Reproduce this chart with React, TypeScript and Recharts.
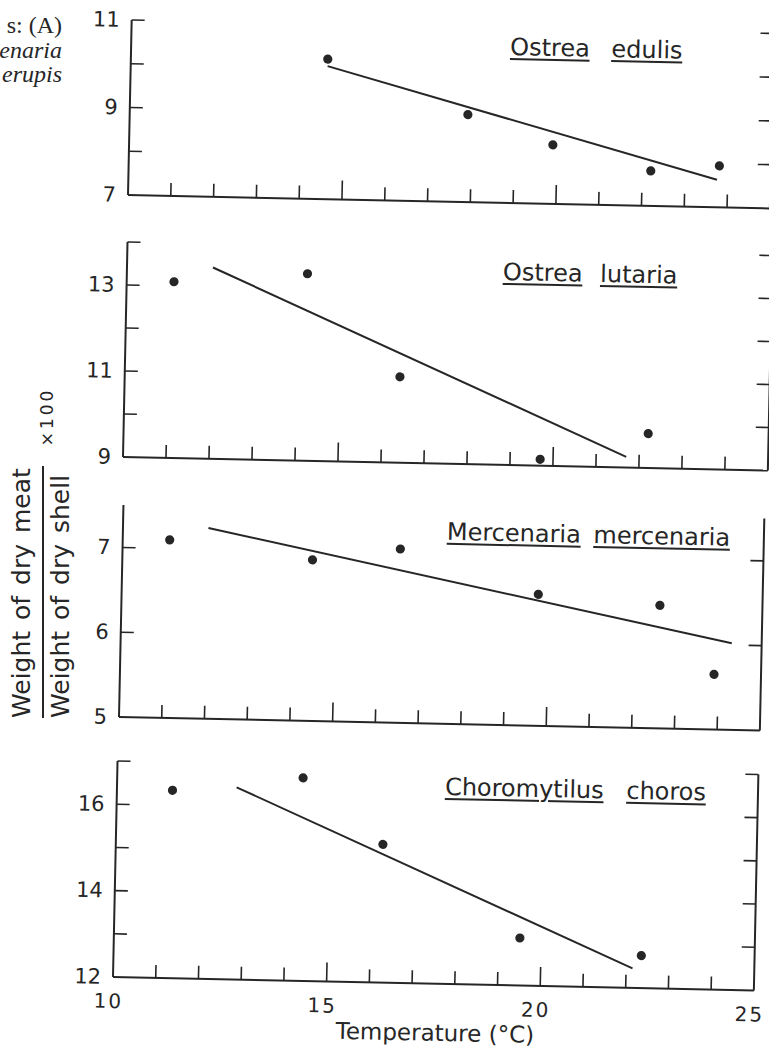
import React from 'react';
import { ScatterChart, Scatter, XAxis, YAxis } from 'recharts';

const INK = '#262626';
const SANS = '"DejaVu Sans", sans-serif';

// temperature axis (°C)
const tempTicks = [10, 11, 12, 13, 14, 15, 16, 17, 18, 19, 20, 21, 22, 23, 24, 25];
const tempLabels = [10, 15, 20, 25];
const tempMajor = [15, 20];

// Ostrea edulis
const edulisTemp = [14.6, 17.9, 19.9, 22.2, 23.8];
const edulisRatio = [10.2, 9.0, 8.35, 7.8, 7.95];
const edulisFitTemp = [14.6, 23.75];
const edulisFitRatio = [10.04, 7.63];
const edulisTicks = [7, 8, 9, 10, 11];
const edulisLabels = [7, 9, 11];

// Ostrea lutaria
const lutariaTemp = [11.1, 14.2, 16.4, 19.7, 22.2];
const lutariaRatio = [13.1, 13.35, 11.0, 9.15, 9.8];
const lutariaFitTemp = [12.0, 21.7];
const lutariaFitRatio = [13.45, 9.25];
const lutariaTicks = [9, 10, 11, 12, 13, 14];
const lutariaLabels = [9, 11, 13];

// Mercenaria mercenaria
const mercTemp = [11.1, 14.45, 16.5, 19.75, 22.6, 23.9];
const mercRatio = [7.1, 6.9, 7.05, 6.55, 6.45, 5.65];
const mercFitTemp = [12.0, 24.3];
const mercFitRatio = [7.25, 6.02];
const mercTicks = [5, 6, 7];
const mercLabels = [5, 6, 7];

// Choromytilus choros
const chorosTemp = [11.3, 14.35, 16.25, 19.5, 22.35];
const chorosRatio = [16.35, 16.7, 15.2, 13.1, 12.75];
const chorosFitTemp = [12.8, 22.15];
const chorosFitRatio = [16.45, 12.45];
const chorosTicks = [12, 13, 14, 15, 16, 17];
const chorosLabels = [12, 14, 16];

// layout: origin of each plot on the page, plot size, title spot (relative to origin)
const panels = [
  {
    words: ['Ostrea', 'edulis'], temp: edulisTemp, ratio: edulisRatio,
    fitTemp: edulisFitTemp, fitRatio: edulisFitRatio,
    domain: [7, 11], ticks: edulisTicks, labels: edulisLabels,
    ox: 128, oy: 195, plotW: 642, plotH: 175, titleX: 379, titleY: -148, gap: 22,
  },
  {
    words: ['Ostrea', 'lutaria'], temp: lutariaTemp, ratio: lutariaRatio,
    fitTemp: lutariaFitTemp, fitRatio: lutariaFitRatio,
    domain: [9, 14], ticks: lutariaTicks, labels: lutariaLabels,
    ox: 123, oy: 457, plotW: 645, plotH: 215, titleX: 376, titleY: -185, gap: 18,
  },
  {
    words: ['Mercenaria', 'mercenaria'], temp: mercTemp, ratio: mercRatio,
    fitTemp: mercFitTemp, fitRatio: mercFitRatio,
    domain: [5, 7.5], ticks: mercTicks, labels: mercLabels,
    ox: 119, oy: 717, plotW: 641, plotH: 212, titleX: 324, titleY: -184, gap: 13,
  },
  {
    words: ['Choromytilus', 'choros'], temp: chorosTemp, ratio: chorosRatio,
    fitTemp: chorosFitTemp, fitRatio: chorosFitRatio,
    domain: [12, 17], ticks: chorosTicks, labels: chorosLabels,
    ox: 113, oy: 977, plotW: 641, plotH: 216, titleX: 328, titleY: -189, gap: 23,
  },
];

const L = 60;
const R = 20;
const T = 20;
const B = 45;
const TILT = 1.2; // the printed figure sits slightly skewed on the page

function TempTick({ x, y, payload, labelled }: any) {
  const v = payload.value;
  const len = tempMajor.includes(v) ? 19 : 13;
  return (
    <g>
      {v > 10 && v < 25 && (
        <line x1={x} y1={y} x2={x} y2={y - len} stroke={INK} strokeWidth={1.6} />
      )}
      {labelled && tempLabels.includes(v) && (
        <text
          x={x - 4}
          y={y + 24}
          textAnchor="middle"
          dominantBaseline="central"
          fontFamily={SANS}
          fontSize={20}
          letterSpacing={2}
          fill={INK}
        >
          {v}
        </text>
      )}
    </g>
  );
}

function RatioTick({ x, y, payload, labels, min, side }: any) {
  const v = payload.value;
  const dir = side === 'left' ? 1 : -1;
  return (
    <g>
      {v > min && <line x1={x} y1={y} x2={x + dir * 13} y2={y} stroke={INK} strokeWidth={1.6} />}
      {side === 'left' && labels.includes(v) && (
        <text
          x={x - 12}
          y={y}
          textAnchor="end"
          dominantBaseline="central"
          fontFamily={SANS}
          fontSize={21}
          fill={INK}
        >
          {v}
        </text>
      )}
    </g>
  );
}

const dot = (props: any) => <circle cx={props.cx} cy={props.cy} r={4.6} fill={INK} />;
const nothing = () => <g />;

function Panel({ p, last }: any) {
  const W = L + p.plotW + R;
  const H = T + p.plotH + B;
  const points = p.temp.map((t: number, i: number) => ({ x: t, y: p.ratio[i] }));
  const fit = p.fitTemp.map((t: number, i: number) => ({ x: t, y: p.fitRatio[i] }));
  const axisLine = { stroke: INK, strokeWidth: 2 };

  return (
    <div
      style={{
        position: 'absolute',
        left: p.ox - L,
        top: p.oy - p.plotH - T,
        width: W,
        height: H,
        transform: `rotate(${TILT}deg)`,
        transformOrigin: `${L}px ${T + p.plotH}px`,
      }}
    >
      <ScatterChart width={W} height={H} margin={{ top: T, right: 0, bottom: 0, left: 0 }}>
        <XAxis
          type="number"
          dataKey="x"
          domain={[10, 25]}
          ticks={tempTicks}
          interval={0}
          height={B}
          tickSize={0}
          tickMargin={0}
          tickLine={false}
          axisLine={axisLine}
          tick={(props: any) => <TempTick {...props} labelled={last} />}
        />
        <YAxis
          yAxisId="left"
          type="number"
          dataKey="y"
          domain={p.domain}
          allowDataOverflow
          ticks={p.ticks}
          interval={0}
          width={L}
          tickSize={0}
          tickMargin={0}
          tickLine={false}
          axisLine={axisLine}
          tick={(props: any) => (
            <RatioTick {...props} labels={p.labels} min={p.domain[0]} side="left" />
          )}
        />
        <YAxis
          yAxisId="right"
          orientation="right"
          type="number"
          dataKey="y"
          domain={p.domain}
          allowDataOverflow
          ticks={p.ticks}
          interval={0}
          width={R}
          tickSize={0}
          tickMargin={0}
          tickLine={false}
          axisLine={axisLine}
          tick={(props: any) => (
            <RatioTick {...props} labels={p.labels} min={p.domain[0]} side="right" />
          )}
        />
        <Scatter yAxisId="left" data={points} shape={dot} isAnimationActive={false} />
        <Scatter
          yAxisId="left"
          data={fit}
          line={{ stroke: INK, strokeWidth: 2 }}
          shape={nothing}
          isAnimationActive={false}
        />
      </ScatterChart>

      <div
        style={{
          position: 'absolute',
          left: L + p.titleX,
          top: T + p.plotH + p.titleY - 20,
          fontFamily: SANS,
          fontSize: 24,
          lineHeight: '24px',
          color: INK,
          whiteSpace: 'nowrap',
        }}
      >
        {p.words.map((w: string, i: number) => (
          <React.Fragment key={w + i}>
            {i > 0 ? ' ' : ''}
            <span
              style={{
                marginLeft: i === 0 ? 0 : p.gap - 8,
                textDecoration: 'underline',
                textUnderlineOffset: '3px',
                textDecorationThickness: '2px',
              }}
            >
              {w}
            </span>
          </React.Fragment>
        ))}
      </div>

      {last && (
        <div
          style={{
            position: 'absolute',
            left: L + 323 - 150,
            width: 300,
            top: T + p.plotH + 57 - 20,
            textAlign: 'center',
            fontFamily: SANS,
            fontSize: 23,
            lineHeight: '24px',
            color: INK,
          }}
        >
          Temperature (°C)
        </div>
      )}
    </div>
  );
}

export default function App() {
  return (
    <div
      style={{
        position: 'absolute',
        left: 0,
        top: 0,
        width: 769,
        height: 1051,
        overflow: 'hidden',
        background: '#fff',
      }}
    >
      {/* caption fragments cut off at the left edge of the scan */}
      <div
        style={{
          position: 'absolute',
          left: -200,
          top: 13,
          width: 262,
          textAlign: 'right',
          fontFamily: '"Liberation Serif", serif',
          fontSize: 24,
          lineHeight: '24.5px',
          color: INK,
        }}
      >
        <div>s: (A)</div>
        <div style={{ fontStyle: 'italic' }}>enaria</div>
        <div style={{ fontStyle: 'italic' }}>erupis</div>
      </div>

      {/* shared y-axis title */}
      <div
        style={{
          position: 'absolute',
          left: 41 - 126,
          top: 592 - 32,
          width: 252,
          height: 64,
          transform: 'rotate(-90deg)',
          fontFamily: SANS,
          fontSize: 25,
          lineHeight: '25px',
          color: INK,
          whiteSpace: 'nowrap',
          wordSpacing: 3,
        }}
      >
        <div style={{ paddingBottom: 8, borderBottom: `2px solid ${INK}` }}>Weight of dry meat</div>
        <div style={{ paddingTop: 4 }}>Weight of dry shell</div>
      </div>
      <div
        style={{
          position: 'absolute',
          left: 47 - 35,
          top: 417 - 11,
          width: 70,
          height: 22,
          transform: 'rotate(-90deg)',
          textAlign: 'center',
          fontFamily: SANS,
          fontSize: 17,
          lineHeight: '22px',
          letterSpacing: 3,
          color: INK,
        }}
      >
        ×100
      </div>

      {panels.map((p, i) => (
        <Panel key={p.words.join(' ')} p={p} last={i === panels.length - 1} />
      ))}
    </div>
  );
}
